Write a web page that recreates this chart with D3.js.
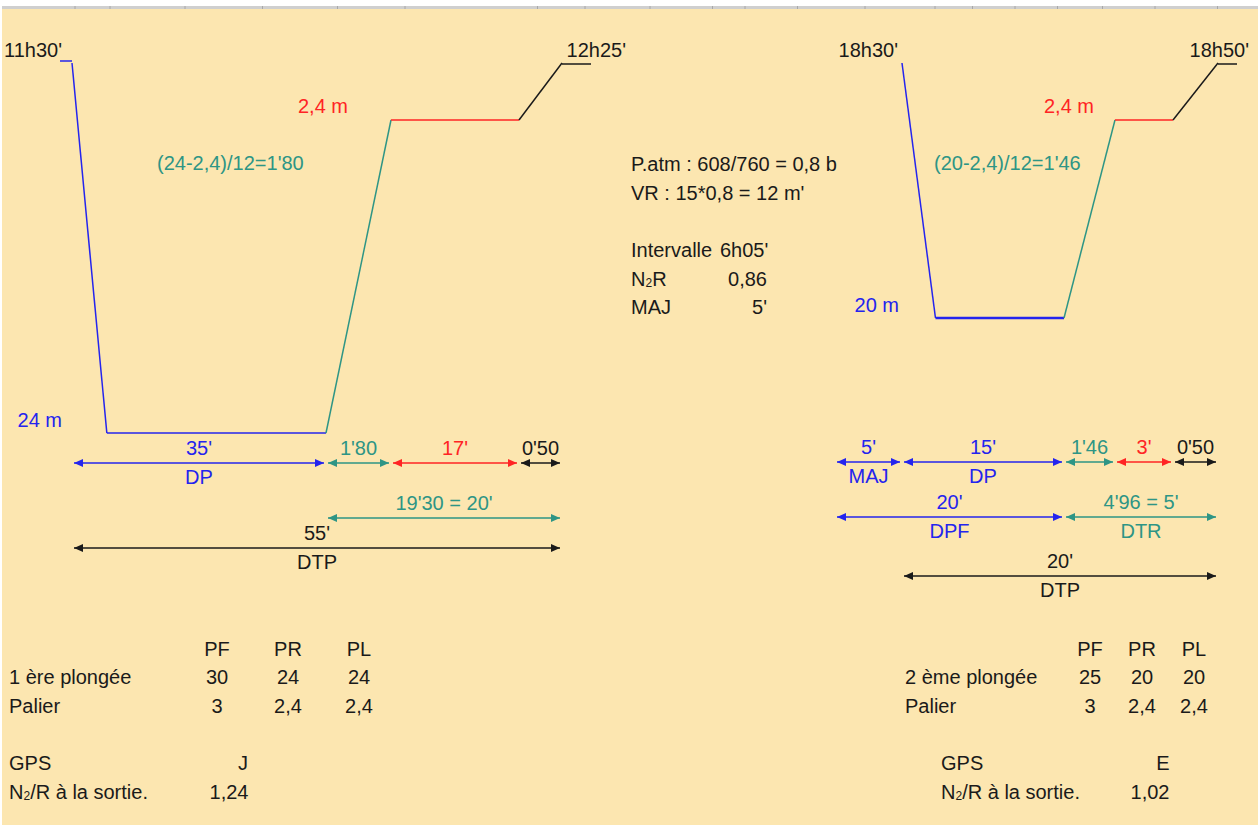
<!DOCTYPE html>
<html><head><meta charset="utf-8">
<script src="https://cdn.jsdelivr.net/npm/d3@7"></script>
<style>
body{margin:0;background:#fff}
svg{display:block}
text{font-family:"Liberation Sans",Arial,sans-serif;font-size:20px}
</style>
</head><body><div id="chart"></div>
<script>
// ================= DATA =================
// Dive 1 profile (time in min from immersion, depth in m)
const dive1Times  = [0, 4.8, 35, 36.8, 53.8, 54.3];
const dive1Depths = [0, 24, 24, 2.4, 2.4, 0];
const dive1Kinds  = ["fond", "fond", "remontee", "palier", "surface"];
const dive1Hours  = ["11h30'", "12h25'"];
const dive1Formula = "(24-2,4)/12=1'80";
const dive1Arrows = [
  [0, 35, "35'", "DP", "fond", 0],
  [35, 36.8, "1'80", "", "remontee", 0],
  [36.8, 53.8, "17'", "", "palier", 0],
  [53.8, 54.3, "0'50", "", "surface", 0],
  [35, 54.3, "19'30 = 20'", "", "remontee", 1],
  [0, 54.3, "55'", "DTP", "total", 2]
];

// Dive 2 profile
const dive2Times  = [0, 3.1, 15, 16.46, 19.46, 19.96];
const dive2Depths = [0, 20, 20, 2.4, 2.4, 0];
const dive2Kinds  = ["fond", "fond", "remontee", "palier", "surface"];
const dive2Hours  = ["18h30'", "18h50'"];
const dive2Formula = "(20-2,4)/12=1'46";
const dive2Arrows = [
  [-5, 0, "5'", "MAJ", "fond", 0],
  [0, 15, "15'", "DP", "fond", 0],
  [15, 16.46, "1'46", "", "remontee", 0],
  [16.46, 19.46, "3'", "", "palier", 0],
  [19.46, 19.96, "0'50", "", "surface", 0],
  [-5, 15, "20'", "DPF", "fond", 1],
  [15, 19.96, "4'96 = 5'", "DTR", "remontee", 1],
  [0, 19.96, "20'", "DTP", "total", 2]
];

// Central notes
const notesTop = ["P.atm : 608/760 = 0,8 b", "VR : 15*0,8 = 12 m'"];
const notesLabels = ["Intervalle", "N\u2082R", "MAJ"];
const notesValues = ["6h05'", "0,86", "5'"];

// Tables
const tableHeaders = ["PF", "PR", "PL"];
const table1RowNames = ["1 ère plongée", "Palier"];
const table1Values = [["30", "24", "24"], ["3", "2,4", "2,4"]];
const table2RowNames = ["2 ème plongée", "Palier"];
const table2Values = [["25", "20", "20"], ["3", "2,4", "2,4"]];
const gpsLabels = ["GPS", "N\u2082/R à la sortie."];
const gps1Values = ["J", "1,24"];
const gps2Values = ["E", "1,02"];

// ================= STYLE / LAYOUT =================
const W = 1258, H = 825;
const BG = "#FCE6B0";
const colors = {fond: "#2424EE", remontee: "#2E9585", palier: "#FF2424", surface: "#1a1a1a", total: "#1a1a1a"};
const ink = "#1a1a1a";

const svg = d3.select("#chart").append("svg").attr("width", W).attr("height", H);
svg.append("rect").attr("width", W).attr("height", H).attr("fill", "#fff");
svg.append("rect").attr("x", 2).attr("y", 9).attr("width", W - 2).attr("height", H - 9).attr("fill", BG);
svg.append("rect").attr("x", 2).attr("y", 6).attr("width", W - 2).attr("height", 3).attr("fill", "#cfcfcf");
// header column separators
const colSeps = [30, 44, 74, 105, 135, 162, 215, 234, 260, 285, 298, 319, 346, 374, 389, 406, 423, 441, 462, 487, 505];
svg.append("g").selectAll("line").data(colSeps).join("line")
  .attr("x1", d => d * 2.5).attr("x2", d => d * 2.5).attr("y1", 6).attr("y2", 9)
  .attr("stroke", "#a8a8a8").attr("stroke-width", 1);

function drawDive(cfg) {
  const x = d3.scaleLinear().domain(cfg.xDomain).range(cfg.xRange);
  const y = d3.scaleLinear().domain(cfg.yDomain).range(cfg.yRange);
  const g = svg.append("g");
  const pts = cfg.times.map((t, i) => [x(t), y(cfg.depths[i])]);
  const line = d3.line();
  cfg.kinds.forEach((k, i) => {
    g.append("path").attr("d", line([pts[i], pts[i + 1]]))
      .attr("fill", "none").attr("stroke", colors[k])
      .attr("stroke-width", (k === "fond" && i === 1) ? cfg.bottomWidth : 1.5);
  });
  const t0 = cfg.times[0], tn = cfg.times[cfg.times.length - 1];
  if (cfg.startStub > 0) {
    g.append("path").attr("d", line([[x(t0) - cfg.startStub, y(0) - 2], [x(t0), y(0) - 2]]))
      .attr("stroke", colors.fond).attr("stroke-width", 1.5).attr("fill", "none");
  }
  g.append("path").attr("d", line([[x(tn), y(0) + 1], [x(tn) + cfg.endStub, y(0) + 1]]))
    .attr("stroke", colors.surface).attr("stroke-width", 1.5).attr("fill", "none");

  g.append("text").attr("x", x(t0) + cfg.startLabelDx).attr("y", y(0) + cfg.hourDy)
    .attr("text-anchor", "end").attr("fill", ink).text(cfg.hours[0]);
  g.append("text").attr("x", x(tn) + cfg.endLabelDx).attr("y", y(0) + cfg.hourDy)
    .attr("text-anchor", "end").attr("fill", ink).text(cfg.hours[1]);
  g.append("text").attr("x", x(cfg.times[3]) + cfg.palierDx).attr("y", y(2.4) - 7)
    .attr("text-anchor", "end").attr("fill", colors.palier).text("2,4 m");
  const maxD = d3.max(cfg.depths);
  g.append("text").attr("x", cfg.depthLabelX).attr("y", y(maxD) - 6)
    .attr("text-anchor", "end").attr("fill", colors.fond).text(maxD + " m");
  g.append("text").attr("x", cfg.formulaX).attr("y", 170)
    .attr("fill", colors.remontee).text(cfg.formula);

  cfg.arrows.forEach(a => {
    const [t1, t2, above, below, kind, row] = a;
    const yy = cfg.rowY[row];
    const xa = x(t1) + 2, xb = x(t2) - 2;
    const c = colors[kind];
    g.append("path").attr("d", line([[xa, yy], [xb, yy]])).attr("stroke", c).attr("stroke-width", 1.5);
    const head = (tip, dir) => line([[tip, yy], [tip - dir * 9, yy - 4], [tip - dir * 9, yy + 4]]) + "Z";
    g.append("path").attr("d", head(xa, -1)).attr("fill", c);
    g.append("path").attr("d", head(xb, 1)).attr("fill", c);
    const cx = (xa + xb) / 2;
    const tc = kind === "surface" || kind === "total" ? ink : c;
    if (above) g.append("text").attr("x", cx).attr("y", yy - 8).attr("text-anchor", "middle").attr("fill", tc).text(above);
    if (below) g.append("text").attr("x", cx).attr("y", yy + 21).attr("text-anchor", "middle").attr("fill", tc).text(below);
  });
}

drawDive({
  times: dive1Times, depths: dive1Depths, kinds: dive1Kinds, hours: dive1Hours,
  formula: dive1Formula, arrows: dive1Arrows,
  xDomain: [0, 35, 36.8, 53.8, 54.3], xRange: [72, 326, 391, 519, 562],
  yDomain: [0, 2.4, 24], yRange: [63, 120, 433],
  bottomWidth: 1.5, startStub: 12, endStub: 29,
  startLabelDx: -10, endLabelDx: 64, hourDy: -6, palierDx: -43,
  depthLabelX: 62, formulaX: 157, rowY: [463, 518, 548]
});
drawDive({
  times: dive2Times, depths: dive2Depths, kinds: dive2Kinds, hours: dive2Hours,
  formula: dive2Formula, arrows: dive2Arrows,
  xDomain: [-5, 0, 15, 16.46, 19.46, 19.96], xRange: [835, 902, 1064, 1115, 1173, 1218],
  yDomain: [0, 2.4, 20], yRange: [63, 120, 318],
  bottomWidth: 2.4, startStub: 0, endStub: 19,
  startLabelDx: -4, endLabelDx: 31, hourDy: -6, palierDx: -21,
  depthLabelX: 899, formulaX: 934, rowY: [462, 517, 576]
});

function richText(sel, str) {
  const parts = str.split("\u2082");
  parts.forEach((p, i) => {
    if (i > 0) sel.append("tspan").attr("font-size", "12px").attr("dy", 1).text("2");
    const t = sel.append("tspan").text(p);
    if (i > 0) t.attr("dy", -1);
  });
}

// central notes
const notes = svg.append("g").attr("fill", ink);
notes.selectAll("text.top").data(notesTop).join("text").attr("class", "top")
  .attr("x", 631).attr("y", (d, i) => 171 + i * 28.5).text(d => d);
notesLabels.forEach((l, i) => {
  const t = notes.append("text").attr("x", 631).attr("y", 257 + i * 28.5);
  richText(t, l);
  notes.append("text").attr("x", i === 0 ? 720 : 767).attr("y", 257 + i * 28.5)
    .attr("text-anchor", i === 0 ? "start" : "end").text(notesValues[i]);
});

// tables
function drawTable(cfg) {
  const g = svg.append("g").attr("fill", ink);
  const cx = d3.scalePoint().domain(tableHeaders).range(cfg.cols);
  g.selectAll("text.h").data(tableHeaders).join("text").attr("class", "h")
    .attr("x", d => cx(d)).attr("y", 656).attr("text-anchor", "middle").text(d => d);
  cfg.rows.forEach((r, i) => {
    g.append("text").attr("x", cfg.rowX).attr("y", 684 + i * 28.5).text(r);
    cfg.values[i].forEach((v, j) => {
      g.append("text").attr("x", cx(tableHeaders[j])).attr("y", 684 + i * 28.5)
        .attr("text-anchor", "middle").text(v);
    });
  });
  gpsLabels.forEach((l, i) => {
    const t = g.append("text").attr("x", cfg.gpsX).attr("y", 770 + i * 28.5);
    richText(t, l);
    g.append("text").attr("x", cfg.gpsValX[i]).attr("y", 770 + i * 28.5)
      .attr("text-anchor", "middle").text(cfg.gpsValues[i]);
  });
}
drawTable({cols: [217, 359], rows: table1RowNames, values: table1Values, rowX: 9,
  gpsX: 9, gpsValX: [243, 229], gpsValues: gps1Values});
drawTable({cols: [1090, 1194], rows: table2RowNames, values: table2Values, rowX: 905,
  gpsX: 941, gpsValX: [1163, 1150], gpsValues: gps2Values});
</script>
</body></html>
